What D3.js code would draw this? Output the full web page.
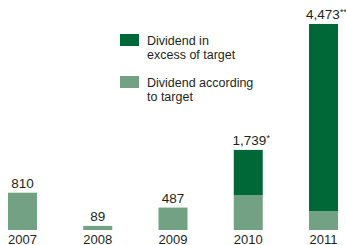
<!DOCTYPE html>
<html><head><meta charset="utf-8">
<script src="https://cdn.jsdelivr.net/npm/d3@7"></script>
<style>html,body{margin:0;padding:0;background:#fff;}svg{display:block;font-family:"Liberation Sans",Arial,Helvetica,sans-serif;}</style>
</head><body>
<svg id="c" width="346" height="245"></svg>
<script>
const years = ["2007","2008","2009","2010","2011"];
const targetValues = [810, 89, 487, 760, 410];
const excessValues = [0, 0, 0, 979, 4063];
const totalLabels = ["810","89","487","1,739*","4,473**"];
const legendItems = [["Dividend in","excess of target"],["Dividend according","to target"]];
const colors = {excess:"#006837", target:"#72a283", text:"#231f20"};

const svg = d3.select("#c");
const x = d3.scaleBand().domain(years).range([8,338]).paddingInner(0.615).paddingOuter(0);
const y = d3.scaleLinear().domain([0,4473]).range([230,24]);

const data = years.map((yr,i)=>({yr, t:targetValues[i], e:excessValues[i], lab:totalLabels[i]}));

svg.selectAll(".t").data(data).enter().append("rect")
  .attr("x",d=>x(d.yr)).attr("width",x.bandwidth())
  .attr("y",d=>y(d.t)).attr("height",d=>y(0)-y(d.t))
  .attr("fill",colors.target);
svg.selectAll(".e").data(data.filter(d=>d.e>0)).enter().append("rect")
  .attr("x",d=>x(d.yr)).attr("width",x.bandwidth())
  .attr("y",d=>y(d.t+d.e)).attr("height",d=>y(d.t)-y(d.t+d.e))
  .attr("fill",colors.excess);

svg.selectAll(".vl").data(data).enter().append("text")
  .attr("x",d=>x(d.yr)+x.bandwidth()/2 + (d.lab.includes("*")?3:0))
  .attr("y",d=>y(d.t+d.e)-5)
  .attr("text-anchor","middle").attr("font-size",13.5).attr("fill",colors.text)
  .each(function(d){
    const m = d.lab.match(/^([^*]*)(\**)$/);
    const s = d3.select(this);
    s.append("tspan").text(m[1]);
    if(m[2]) s.append("tspan").attr("font-size",9).attr("dy",-4).text(m[2]);
  });

svg.selectAll(".yl").data(years).enter().append("text")
  .attr("x",d=>x(d)+x.bandwidth()/2).attr("y",243.5)
  .attr("text-anchor","middle").attr("font-size",13).attr("fill",colors.text)
  .text(d=>d);

const lg = svg.append("g");
const lcol = [colors.excess, colors.target];
legendItems.forEach((lines,i)=>{
  const yy = 34 + i*42;
  lg.append("rect").attr("x",120).attr("y",yy).attr("width",19).attr("height",12).attr("fill",lcol[i]);
  lines.forEach((ln,j)=>{
    lg.append("text").attr("x",147).attr("y",yy+11+j*13.5)
      .attr("font-size",12.5).attr("fill",colors.text).text(ln);
  });
});
</script>
</body></html>
